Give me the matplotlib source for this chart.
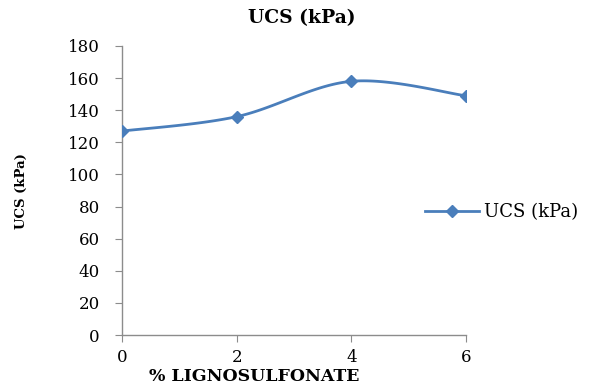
import numpy as np
import matplotlib.pyplot as plt

# lignosulfonate content (%) and unconfined compressive strength (kPa)
lignosulfonate = [0, 2, 4, 6]
ucs = [127, 136, 158, 149]

x_ticks = [0, 2, 4, 6]
y_ticks = list(range(0, 181, 20))

LINE_COLOR = "#4a7ebb"
SPINE_COLOR = "#8c8c8c"
SERIF = ["DejaVu Serif"]


def smooth_curve(xs, ys, steps=40):
    # piecewise cubic Bezier through the points (spreadsheet-style smoothed line)
    p = np.column_stack([xs, ys]).astype(float)
    n = len(p)
    out = []
    for i in range(n - 1):
        p0 = p[max(i - 1, 0)]
        p1 = p[i]
        p2 = p[i + 1]
        p3 = p[min(i + 2, n - 1)]
        c1 = p1 + (p2 - p0) / 6.0
        c2 = p2 - (p3 - p1) / 6.0
        t = np.linspace(0, 1, steps)[:, None]
        seg = ((1 - t) ** 3) * p1 + 3 * ((1 - t) ** 2) * t * c1 \
            + 3 * (1 - t) * t ** 2 * c2 + t ** 3 * p2
        out.append(seg if i == 0 else seg[1:])
    pts = np.vstack(out)
    return pts[:, 0], pts[:, 1]


fig = plt.figure(figsize=(6.05, 3.87), dpi=100)
ax = fig.add_axes([122 / 605, 1 - 335 / 387, (466 - 122) / 605, (335 - 46) / 387])

sx, sy = smooth_curve(lignosulfonate, ucs)
ax.plot(sx, sy, color=LINE_COLOR, lw=2.0, solid_capstyle="round", zorder=3)
ax.plot(lignosulfonate, ucs, linestyle="none", marker="D", markersize=6.5,
        color=LINE_COLOR, zorder=4)
# legend proxy: line with a diamond in the middle
ax.plot([], [], color=LINE_COLOR, lw=2.0, marker="D", markersize=6.5, label="UCS (kPa)")

ax.set_xlim(0, 6)
ax.set_ylim(0, 180)
ax.set_xticks(x_ticks)
ax.set_yticks(y_ticks)
ax.set_xticklabels([str(v) for v in x_ticks], family=SERIF, fontsize=12)
ax.set_yticklabels([str(v) for v in y_ticks], family=SERIF, fontsize=12)

for side in ("top", "right"):
    ax.spines[side].set_visible(False)
for side in ("left", "bottom"):
    ax.spines[side].set_color(SPINE_COLOR)
    ax.spines[side].set_linewidth(1.0)
ax.tick_params(axis="y", direction="out", length=5, color=SPINE_COLOR, pad=11)
ax.tick_params(axis="x", direction="out", length=5, color=SPINE_COLOR, pad=5)

fig.text(302 / 605, 1 - 18 / 387, "UCS (kPa)", ha="center", va="center",
         family=SERIF, fontsize=13.5, fontweight="bold")
fig.text(21 / 605, 1 - 191 / 387, "UCS (kPa)", ha="center", va="center",
         rotation=90, family=SERIF, fontsize=9.5, fontweight="bold")
fig.text(254 / 605, 0.004, "% LIGNOSULFONATE", ha="center", va="bottom",
         family=SERIF, fontsize=12.5, fontweight="bold")

fig.legend(loc="center left", bbox_to_anchor=(425 / 605, 1 - 212 / 387),
           frameon=False, borderpad=0, borderaxespad=0, handlelength=3.0,
           handletextpad=0.25, prop={"family": SERIF, "size": 13})

fig.savefig("out.png", dpi=100)
plt.close(fig)
